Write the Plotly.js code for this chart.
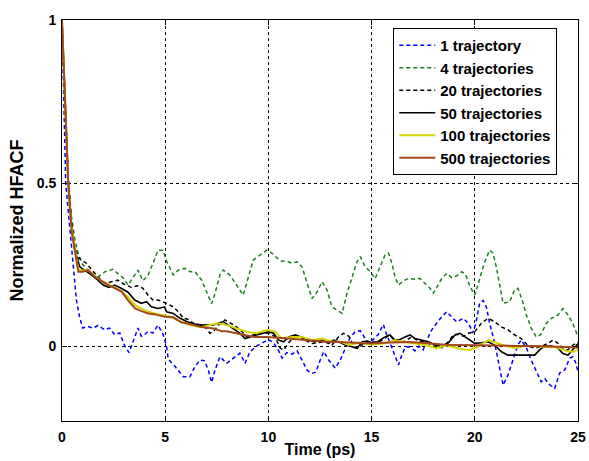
<!DOCTYPE html>
<html>
<head>
<meta charset="utf-8">
<script src="https://cdn.plot.ly/plotly-3.0.1.min.js"></script>
<style>html,body{margin:0;padding:0;background:#fff;}#chart{width:589px;height:461px;}</style>
</head>
<body>
<div id="chart"></div>
<script>
// ---- data ----
const seriesNames = ["1 trajectory", "4 trajectories", "20 trajectories", "50 trajectories", "100 trajectories", "500 trajectories"];
const xTickVals = [0, 5, 10, 15, 20, 25];
const yTickVals = [0, 0.5, 1];
const yTickText = ["0", "0.5", "1"];

const t1 = [0, 0.08, 0.18, 0.25, 0.4, 0.55, 0.7, 0.85, 1.0, 1.26,
 1.5, 1.74, 2.07, 2.3, 2.55, 2.8, 3.04, 3.25, 3.43, 3.68,
 3.84, 4.0, 4.17, 4.4, 4.65, 4.9, 5.06, 5.15, 5.48, 5.88,
 6.2, 6.44, 6.69, 6.9, 7.09, 7.25, 7.41, 7.65, 7.98, 8.2,
 8.4, 8.62, 8.87, 9.1, 9.43, 9.75, 10.0, 10.25, 10.5, 10.66,
 10.9, 11.15, 11.39, 11.63, 11.87, 12.11, 12.3, 12.51, 12.68, 12.92,
 13.24, 13.48, 13.73, 13.97, 14.21, 14.45, 14.6, 14.78, 15.0, 15.32,
 15.57, 15.7, 15.89, 16.13, 16.3, 16.45, 16.62, 16.85, 17.1, 17.3,
 17.5, 17.67, 17.91, 18.15, 18.4, 18.64, 18.88, 19.12, 19.3, 19.44,
 19.6, 19.77, 19.9, 20.05, 20.23, 20.4, 20.56, 20.72, 20.96, 21.2,
 21.37, 21.6, 21.85, 22.1, 22.25, 22.5, 22.73, 22.98, 23.22, 23.4,
 23.55, 23.87, 24.11, 24.35, 24.6, 24.75, 24.9, 25.0];
const y1 = [1, 0.75, 0.5, 0.45, 0.35, 0.24, 0.14, 0.09, 0.055, 0.06,
 0.055, 0.063, 0.05, 0.055, 0.035, 0.04, 0.0, -0.02, 0.01, 0.055,
 0.03, 0.035, 0.045, 0.04, 0.064, 0.035, 0.0, -0.04, -0.063, -0.094,
 -0.094, -0.063, -0.043, -0.045, -0.074, -0.112, -0.074, -0.033, -0.053, -0.043,
 -0.033, -0.022, -0.053, -0.018, 0.0, 0.01, 0.02, 0.01, -0.015, -0.037,
 -0.02, -0.025, -0.015, -0.043, -0.074, -0.084, -0.08, -0.043, -0.017, -0.043,
 -0.068, -0.043, -0.005, 0.028, 0.044, 0.047, 0.033, 0.01, 0.015, 0.035,
 0.066, 0.04, 0.01, -0.033, -0.058, -0.03, -0.005, -0.002, -0.015, 0.0,
 -0.012, 0.018, 0.049, 0.07, 0.09, 0.105, 0.09, 0.074, 0.08, 0.085,
 0.075, 0.06, 0.04, 0.07, 0.13, 0.14, 0.12, 0.07, 0.01, -0.063,
 -0.12, -0.09, -0.043, 0.005, 0.018, -0.005, -0.043, -0.079, -0.11, -0.1,
 -0.115, -0.13, -0.083, -0.074, -0.037, -0.033, -0.053, -0.079];

const t4 = [0, 0.1, 0.2, 0.3, 0.45, 0.63, 0.8, 1.0, 1.42, 1.76,
 2.08, 2.46, 2.95, 3.2, 3.45, 3.68, 3.92, 4.15, 4.41, 4.65,
 4.89, 5.07, 5.39, 5.64, 5.96, 6.2, 6.44, 6.77, 7.0, 7.25,
 7.41, 7.65, 7.81, 8.1, 8.46, 8.78, 9.03, 9.27, 9.59, 9.93,
 10.17, 10.42, 10.66, 10.9, 11.14, 11.39, 11.63, 11.87, 12.11, 12.35,
 12.6, 12.84, 13.08, 13.32, 13.57, 13.81, 14.05, 14.29, 14.45, 14.69,
 14.94, 15.17, 15.41, 15.65, 15.82, 16.0, 16.13, 16.3, 16.55, 16.78,
 17.1, 17.35, 17.59, 17.83, 17.99, 18.2, 18.4, 18.64, 18.88, 19.12,
 19.37, 19.55, 19.77, 20.0, 20.23, 20.48, 20.72, 20.88, 21.04, 21.2,
 21.37, 21.69, 21.93, 22.09, 22.3, 22.5, 22.74, 22.98, 23.2, 23.47,
 23.71, 24.03, 24.27, 24.52, 24.75, 25.0];
const y4 = [1, 0.86, 0.67, 0.52, 0.4, 0.325, 0.28, 0.25, 0.22, 0.212,
 0.228, 0.235, 0.21, 0.187, 0.21, 0.233, 0.2, 0.215, 0.254, 0.294,
 0.294, 0.26, 0.218, 0.233, 0.238, 0.228, 0.228, 0.202, 0.167, 0.13,
 0.16, 0.218, 0.233, 0.22, 0.187, 0.156, 0.212, 0.264, 0.279, 0.294,
 0.285, 0.27, 0.26, 0.26, 0.254, 0.258, 0.243, 0.192, 0.146, 0.165,
 0.197, 0.172, 0.12, 0.11, 0.1, 0.162, 0.212, 0.258, 0.274, 0.243,
 0.228, 0.207, 0.243, 0.279, 0.285, 0.25, 0.212, 0.187, 0.2, 0.207,
 0.205, 0.207, 0.192, 0.177, 0.162, 0.185, 0.207, 0.223, 0.21, 0.215,
 0.228, 0.22, 0.182, 0.156, 0.202, 0.258, 0.294, 0.285, 0.243, 0.182,
 0.131, 0.136, 0.172, 0.177, 0.14, 0.095, 0.054, 0.028, 0.035, 0.07,
 0.085, 0.095, 0.115, 0.095, 0.07, 0.028];

const t20 = [0, 0.1, 0.2, 0.3, 0.45, 0.6, 0.8, 0.94, 1.18, 1.42,
 1.74, 2.07, 2.39, 2.71, 3.0, 3.36, 3.65, 3.92, 4.17, 4.41,
 4.65, 4.89, 5.07, 5.39, 5.64, 5.88, 6.1, 6.36, 6.7, 7.0,
 7.17, 7.35, 7.57, 7.9, 8.15, 8.46, 8.7, 8.95, 9.27, 9.59,
 10.0, 10.3, 10.58, 10.74, 10.98, 11.23, 11.5, 11.79, 12.11, 12.4,
 12.76, 13.08, 13.4, 13.65, 13.9, 14.14, 14.38, 14.68, 15.0, 15.3,
 15.65, 15.89, 16.13, 16.4, 16.7, 16.94, 17.2, 17.45, 17.75, 18.07,
 18.4, 18.72, 18.96, 19.2, 19.45, 19.69, 20.0, 20.32, 20.64, 20.95,
 21.28, 21.6, 21.93, 22.25, 22.6, 22.9, 23.2, 23.55, 23.79, 24.0,
 24.27, 24.5, 24.76, 25.0];
const y20 = [1, 0.85, 0.66, 0.51, 0.39, 0.31, 0.27, 0.264, 0.254, 0.235,
 0.212, 0.192, 0.197, 0.202, 0.19, 0.18, 0.185, 0.177, 0.156, 0.141,
 0.141, 0.136, 0.131, 0.12, 0.105, 0.085, 0.082, 0.07, 0.065, 0.054,
 0.039, 0.045, 0.064, 0.08, 0.07, 0.059, 0.045, 0.028, 0.034, 0.039,
 0.039, 0.03, -0.007, -0.012, 0.01, 0.028, 0.03, 0.018, 0.008, 0.01,
 0.013, 0.003, 0.028, 0.039, 0.03, -0.002, -0.007, 0.013, 0.013, 0.01,
 0.023, 0.034, 0.013, 0.01, 0.018, 0.028, 0.018, 0.013, 0.008, -0.002,
 -0.005, 0.013, 0.034, 0.036, 0.03, 0.039, 0.044, 0.07, 0.085, 0.075,
 0.059, 0.05, 0.034, 0.023, 0.0, -0.007, -0.002, 0.008, 0.018, 0.01,
 -0.007, -0.012, 0.003, 0.013];

const t50 = [0, 0.1, 0.2, 0.3, 0.45, 0.6, 0.86, 1.1, 1.42, 1.74,
 1.99, 2.27, 2.55, 2.87, 3.2, 3.52, 3.84, 4.1, 4.33, 4.65,
 4.97, 5.07, 5.39, 5.72, 6.04, 6.36, 6.69, 7.0, 7.3, 7.57,
 7.81, 8.05, 8.3, 8.6, 8.87, 9.1, 9.43, 9.75, 10.0, 10.25,
 10.5, 10.74, 10.98, 11.31, 11.63, 11.95, 12.27, 12.6, 12.92, 13.15,
 13.4, 13.73, 14.05, 14.29, 14.55, 14.8, 15.0, 15.3, 15.65, 15.89,
 16.13, 16.38, 16.62, 16.86, 17.1, 17.43, 17.75, 18.07, 18.4, 18.72,
 19.04, 19.28, 19.52, 19.77, 20.0, 20.32, 20.64, 20.96, 21.28, 21.6,
 21.93, 22.25, 22.58, 22.9, 23.14, 23.4, 23.7, 24.0, 24.27, 24.52,
 24.76, 25.0];
const y50 = [1, 0.85, 0.66, 0.51, 0.38, 0.3, 0.243, 0.233, 0.218, 0.202,
 0.187, 0.18, 0.187, 0.177, 0.165, 0.141, 0.131, 0.136, 0.12, 0.115,
 0.12, 0.105, 0.1, 0.085, 0.075, 0.068, 0.064, 0.065, 0.064, 0.07,
 0.075, 0.064, 0.054, 0.04, 0.023, 0.028, 0.034, 0.039, 0.044, 0.039,
 0.018, 0.013, 0.028, 0.034, 0.025, 0.018, 0.013, 0.018, 0.008, 0.018,
 0.013, 0.003, -0.002, -0.007, 0.013, 0.015, 0.01, 0.013, 0.028, 0.034,
 0.018, 0.02, 0.028, 0.034, 0.023, 0.018, 0.013, 0.003, -0.002, 0.01,
 0.034, 0.039, 0.028, 0.018, 0.008, 0.01, 0.013, 0.003, -0.017, -0.028,
 -0.028, -0.028, -0.03, -0.028, -0.012, 0.0, 0.0, -0.005, -0.023, -0.028,
 -0.01, 0.008];

const t100 = [0, 0.1, 0.2, 0.3, 0.45, 0.63, 0.79, 1.0, 1.27, 1.6,
 1.9, 2.24, 2.55, 2.89, 3.2, 3.54, 3.85, 4.18, 4.5, 4.75,
 5.23, 5.72, 6.2, 6.69, 7.17, 7.57, 7.98, 8.46, 8.95, 9.43,
 9.91, 10.3, 10.66, 11.14, 11.63, 12.11, 12.6, 13.08, 13.5, 13.89,
 14.4, 15.0, 15.6, 16.13, 16.6, 17.1, 17.6, 18.15, 18.6, 19.0,
 19.4, 19.77, 20.2, 20.65, 21.1, 21.5, 21.95, 22.4, 22.9, 23.4,
 23.9, 24.2, 24.52, 24.8, 25.0];
const y100 = [1, 0.85, 0.66, 0.5, 0.37, 0.3, 0.235, 0.232, 0.233, 0.215,
 0.2, 0.19, 0.18, 0.168, 0.15, 0.125, 0.115, 0.105, 0.1, 0.097,
 0.09, 0.075, 0.064, 0.058, 0.064, 0.07, 0.064, 0.054, 0.044, 0.039,
 0.049, 0.045, 0.023, 0.028, 0.028, 0.018, 0.023, 0.013, 0.013, 0.003,
 0.01, 0.005, 0.008, 0.018, 0.012, 0.008, 0.003, -0.007, 0.002, -0.005,
 -0.01, -0.012, 0.0, 0.018, 0.008, 0.0, -0.007, 0.0, 0.0, -0.003,
 -0.003, -0.01, -0.017, -0.017, -0.012];

const t500 = [0, 0.1, 0.2, 0.3, 0.47, 0.63, 0.79, 1.0, 1.27, 1.6,
 1.9, 2.24, 2.55, 2.89, 3.2, 3.54, 3.85, 4.18, 4.5, 4.99,
 5.39, 5.8, 6.04, 6.4, 6.77, 7.33, 7.74, 7.98, 8.54, 8.9,
 9.35, 9.91, 10.5, 11.0, 11.6, 12.2, 12.8, 13.4, 14.0, 14.4,
 15.0, 15.6, 16.2, 16.8, 17.4, 18.0, 18.6, 19.2, 19.8, 20.4,
 21.0, 21.6, 22.2, 22.8, 23.4, 24.0, 24.5, 25.0];
const y500 = [1, 0.85, 0.66, 0.5, 0.35, 0.294, 0.228, 0.228, 0.233, 0.212,
 0.2, 0.187, 0.178, 0.167, 0.14, 0.115, 0.107, 0.1, 0.097, 0.09,
 0.088, 0.072, 0.07, 0.063, 0.058, 0.054, 0.045, 0.045, 0.037, 0.033,
 0.028, 0.028, 0.025, 0.022, 0.02, 0.015, 0.013, 0.012, 0.01, 0.008,
 0.008, 0.01, 0.012, 0.012, 0.01, 0.006, 0.004, 0.003, 0.002, 0.002,
 0.001, 0.0, 0.0, 0.0, 0.0, -0.002, -0.003, -0.005];

// ---- styles ----
const xs = [t1, t4, t20, t50, t100, t500];
const ys = [y1, y4, y20, y50, y100, y500];
const colors = ["#0000ff", "#1e7d1e", "#000000", "#000000", "#d4d400", "#a2481c"];
const dashes = ["4px,3px", "4px,3px", "4px,3px", "solid", "solid", "solid"];
const widths = [1.5, 1.5, 1.5, 1.6, 2, 2];

const traces = xs.map((x, i) => ({
  x: x, y: ys[i], type: "scatter", mode: "lines", name: seriesNames[i],
  legendgroup: "g" + i,
  line: {color: colors[i], width: widths[i], dash: dashes[i]}
}));

const fam = "Liberation Sans, Arial, sans-serif";
const tickFont = {family: fam, size: 14, color: "#000", weight: "bold"};
const legendFont = {family: fam, size: 15, color: "#000", weight: "bold"};
const xTitleFont = {family: fam, size: 16, color: "#000", weight: "bold"};
const yTitleFont = {family: fam, size: 18, color: "#000", weight: "bold"};

const axisCommon = {
  showline: true, linecolor: "#000", linewidth: 1, mirror: "ticks",
  ticks: "inside", ticklen: 5, tickcolor: "#000",
  showgrid: true, gridcolor: "#000", gridwidth: 1, griddash: "dot",
  zeroline: false, tickfont: tickFont
};

const layout = {
  width: 589, height: 461,
  margin: {l: 62, r: 11, t: 20, b: 40},
  paper_bgcolor: "#fff", plot_bgcolor: "#fff",
  showlegend: true,
  legend: {
    x: 0.642, y: 0.98, xanchor: "left", yanchor: "top",
    bgcolor: "#fff", bordercolor: "#000", borderwidth: 1,
    font: legendFont, tracegroupgap: 0, itemwidth: 36
  },
  xaxis: Object.assign({}, axisCommon, {
    range: [0, 25], tickvals: xTickVals, ticktext: xTickVals.map(String),
    ticklabelstandoff: 3,
    title: {text: "Time (ps)", font: xTitleFont, standoff: 0}
  }),
  yaxis: Object.assign({}, axisCommon, {
    range: [-0.23, 1], tickvals: yTickVals, ticktext: yTickText,
    ticklabelstandoff: 2,
    title: {text: "Normalized HFACF", font: yTitleFont, standoff: 8}
  })
};

Plotly.newPlot("chart", traces, layout, {displayModeBar: false, staticPlot: true});
</script>
</body>
</html>
